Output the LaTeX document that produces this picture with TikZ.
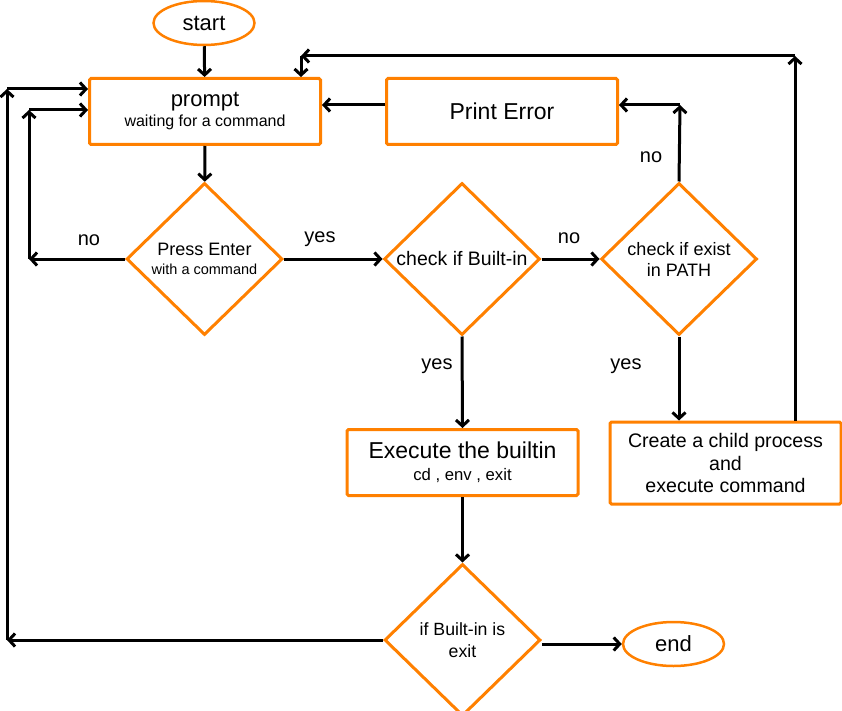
\documentclass[tikz,border=0pt]{standalone}
\usepackage{fontspec}
\setmainfont{Liberation Sans}
\usetikzlibrary{shapes.geometric,arrows.meta}
\definecolor{flowor}{HTML}{FF8000}
\newcommand{\fsz}[2]{\fontsize{#1}{#2}\selectfont}
\begin{document}
\begin{tikzpicture}[x=1pt,y=-1pt,
  boxnode/.style={draw=flowor, line width=3pt, rectangle, rounded corners=1.5pt,
    minimum width=231pt, minimum height=66pt, align=center, inner sep=0pt},
  decision/.style={draw=flowor, line width=3pt, diamond, minimum width=156pt,
    minimum height=152pt, align=center, inner sep=0pt},
  terminal/.style={draw=flowor, line width=2.5pt, ellipse, minimum width=101pt,
    minimum height=44pt, inner sep=0pt},
  conn/.style={draw=black, line width=3pt, -{Straight Barb[length=6pt,width=13pt]}},
  lbl/.style={font=\fsz{20}{22}, inner sep=0pt}]
\useasboundingbox (0,0) rectangle (842,711);

% nodes
\node[terminal, font=\fsz{22}{24}] (start) at (204,23) {start};
\node[boxnode, font=\fsz{16}{20}] (prompt) at (205,111.5)
  {{\fsz{22}{20}prompt}\\waiting for a command};
\node[boxnode, font=\fsz{23}{26}] (perr) at (502,111.5) {Print Error};
\node[decision, font=\fsz{14.5}{19}] (press) at (204.5,259)
  {{\fsz{18}{19}Press Enter}\\with a command};
\node[decision, font=\fsz{19.5}{21}] (bltin) at (462,259) {check if Built-in};
\node[decision, font=\fsz{18}{21}] (path) at (679,259) {check if exist\\in PATH};
\node[boxnode, font=\fsz{16.7}{22}] (exec) at (462.5,462.5)
  {{\fsz{23}{22}Execute the builtin}\\cd , env , exit};
\node[boxnode, font=\fsz{19.6}{22.5}, minimum height=82pt] (child) at (725.5,463)
  {Create a child process\\and\\execute command};
\node[decision, font=\fsz{17.7}{22}] (exitq) at (462.5,640) {if Built-in is\\exit};
\node[terminal, font=\fsz{22}{24}] (endn) at (673.5,644) {end};

% corner coordinates
\coordinate (c1) at (29,259);
\coordinate (c2) at (29,110);
\coordinate (d1) at (7,640);
\coordinate (d2) at (7,89);
\coordinate (e1) at (795,56);
\coordinate (e2) at (301,56);
\coordinate (f1) at (680,105);

% connectors
\draw[conn] (start) -- (prompt);
\draw[conn] (prompt) -- (press);
\draw[conn] (press.east) -- (bltin.west);
\draw[conn] (bltin.east) -- (path.west);
\draw[conn] (bltin.south) -- (exec.north);
\draw[conn] (path.south) -- (child.north -| path.south);
\draw[conn] (exec.south) -- (exitq.north);
\draw[conn] (exitq.east |- endn) -- (endn.west);

% no-loop from Press Enter
\draw[conn] (press.west) -- (c1);
\draw[conn] (c1) -- (c2);
\draw[conn] (c2) -- (prompt.west |- c2);

% outer loop from exit check
\draw[conn] (exitq.west) -- (d1);
\draw[conn] (d1) -- (d2);
\draw[conn] (d2) -- (prompt.west |- d2);

% loop from child process
\draw[conn] (child.north -| e1) -- (e1);
\draw[conn] (e1) -- (e2);
\draw[conn] (e2) -- (prompt.north -| e2);

% PATH no -> Print Error -> prompt
\draw[conn] (path.north) -- (f1);
\draw[conn] (f1) -- (perr.east |- f1);
\draw[conn] (perr.west |- f1) -- (prompt.east |- f1);

% labels
\node[lbl] (lno1) at (89,240) {no};
\node[lbl] (lyes1) at (320,239) {yes};
\node[lbl] (lno2) at (569,238) {no};
\node[lbl] (lno3) at (651,157) {no};
\node[lbl] (lyes2) at (437,366) {yes};
\node[lbl] (lyes3) at (626,366) {yes};
\end{tikzpicture}
\end{document}
